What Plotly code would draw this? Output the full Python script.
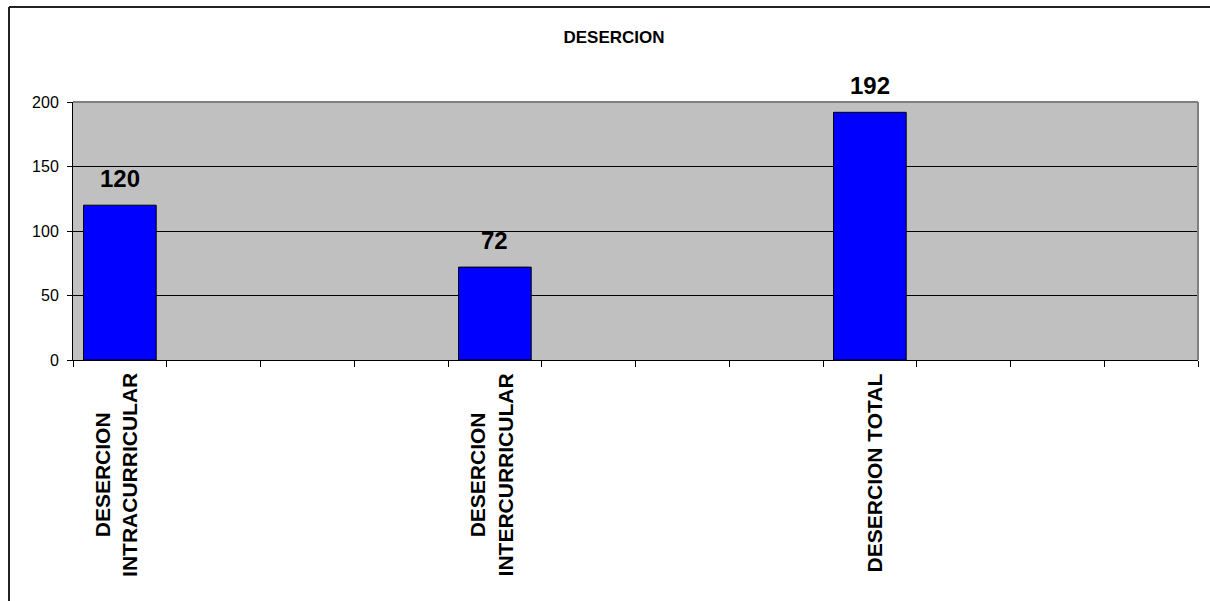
import plotly.graph_objects as go

# ---- data ----
title_text = "DESERCION"
categories = [
    "DESERCION<br>INTRACURRICULAR", " ", "  ", "   ",
    "DESERCION<br>INTERCURRICULAR", "    ", "     ", "      ",
    "DESERCION TOTAL", "       ", "        ", "         ",
]
values = [120, None, None, None, 72, None, None, None, 192, None, None, None]
y_ticks = [0, 50, 100, 150, 200]

# ---- layout geometry (pixels) ----
W, H = 1210, 601
L, R, T, B = 73, 1198, 102, 360
FONT = "Arial, Liberation Sans, sans-serif"

def px_x(p):
    return (p - L) / (R - L)

def px_y(p):
    return (B - p) / (B - T)

fig = go.Figure()
fig.add_trace(go.Bar(
    x=categories, y=values,
    width=0.775,
    marker=dict(color="#0000FF", line=dict(color="black", width=1)),
    hoverinfo="x+y",
    showlegend=False,
))

annotations = []
# value labels
for c, v in zip(categories, values):
    if v is not None:
        annotations.append(dict(
            x=c, y=v, xref="x", yref="y", text=f"<b>{v}</b>",
            showarrow=False, yanchor="bottom", yshift=11,
            font=dict(family=FONT, size=24, color="black"),
        ))
# category labels (rotated, centered lines)
for c in categories:
    if c.strip():
        annotations.append(dict(
            x=c, y=0, xref="x", yref="paper", text=f"<b>{c}</b>",
            showarrow=False, textangle=-90, yanchor="top", xanchor="center",
            align="center", yshift=-11,
            xshift=-4 if "<br>" in c else 5,
            font=dict(family=FONT, size=21, color="black"),
        ))

shapes = [
    # gray top and right border of plot area
    dict(type="line", xref="paper", yref="paper", x0=0, x1=1, y0=1, y1=1,
         line=dict(color="#808080", width=2), layer="above"),
    dict(type="line", xref="paper", yref="paper", x0=1, x1=1, y0=0, y1=1,
         line=dict(color="#808080", width=2), layer="above"),
    # outer chart frame (left and top edges visible)
    dict(type="line", xref="paper", yref="paper",
         x0=px_x(9), x1=px_x(9), y0=px_y(H + 10), y1=px_y(7),
         line=dict(color="#222222", width=2)),
    dict(type="line", xref="paper", yref="paper",
         x0=px_x(9), x1=px_x(W + 10), y0=px_y(7), y1=px_y(7),
         line=dict(color="#222222", width=2)),
]

fig.update_layout(
    width=W, height=H,
    margin=dict(l=L, r=W - R, t=T, b=H - B, autoexpand=False),
    paper_bgcolor="white",
    plot_bgcolor="#C0C0C0",
    title=dict(text=f"<b>{title_text}</b>", x=614 / W, xref="container",
               xanchor="center", y=1 - 37.5 / H, yref="container",
               yanchor="middle",
               font=dict(family=FONT, size=17, color="black")),
    font=dict(family=FONT, color="black"),
    xaxis=dict(
        type="category", categoryorder="array", categoryarray=categories,
        range=[-0.5, len(categories) - 0.5],
        tickson="boundaries", ticks="outside", ticklen=6, tickcolor="black",
        showticklabels=False, showgrid=False,
        showline=True, linecolor="black", linewidth=1,
        fixedrange=True,
    ),
    yaxis=dict(
        range=[0, 200], tickvals=y_ticks,
        ticks="outside", ticklen=5, tickcolor="black",
        showgrid=True, gridcolor="black", gridwidth=1,
        showline=True, linecolor="black", linewidth=1,
        zeroline=False, ticklabelstandoff=5,
        tickfont=dict(family=FONT, size=16, color="black"),
        fixedrange=True,
    ),
    annotations=annotations,
    shapes=shapes,
    bargap=0.225,
)

fig.write_html(
    "out.html",
    config={"displayModeBar": False},
    post_script="document.body.style.margin='0';document.body.style.overflow='hidden';",
)
